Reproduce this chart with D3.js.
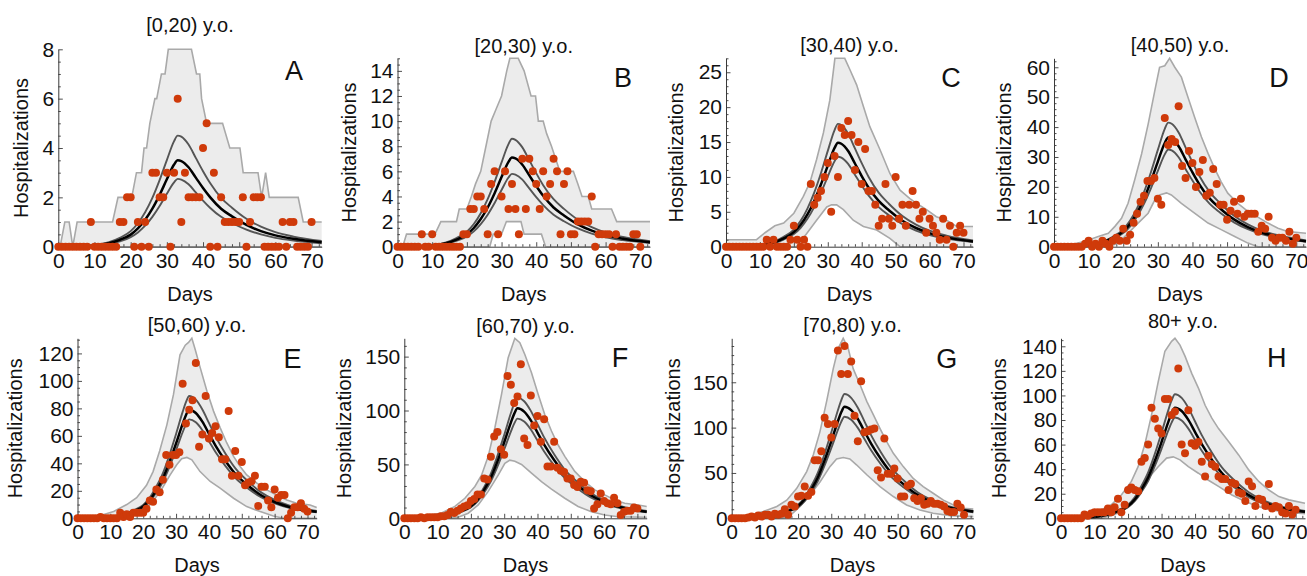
<!DOCTYPE html>
<html><head><meta charset="utf-8">
<script src="https://cdn.jsdelivr.net/npm/d3@7"></script>
<style>
body{margin:0;background:#fff}
svg{display:block;font-family:"Liberation Sans",Arial,sans-serif}
</style>
</head><body>
<svg id="chart" width="1307" height="576"></svg>
<script>
// ---------- DATA ----------
const days = [0,1,2,3,4,5,6,7,8,9,10,11,12,13,14,15,16,17,18,19,20,21,22,23,24,25,26,27,28,29,30,31,32,33,34,35,36,37,38,39,40,41,42,43,44,45,46,47,48,49,50,51,52,53,54,55,56,57,58,59,60,61,62,63,64,65,66,67,68,69,70];
const panelTitles = ["[0,20) y.o.","[20,30) y.o.","[30,40) y.o.","[40,50) y.o.","[50,60) y.o.","[60,70) y.o.","[70,80) y.o.","80+ y.o."];
const panelLetters = ["A","B","C","D","E","F","G","H"];
const xTicks = [0,10,20,30,40,50,60,70];
const yTicksA = [0,2,4,6,8];
const yTicksB = [0,2,4,6,8,10,12,14];
const yTicksC = [0,5,10,15,20,25];
const yTicksD = [0,10,20,30,40,50,60];
const yTicksE = [0,20,40,60,80,100,120];
const yTicksF = [0,50,100,150];
const yTicksG = [0,50,100,150];
const yTicksH = [0,20,40,60,80,100,120,140];

// observed daily hospitalizations (days 0..70)
const hospA = [0,0,0,0,0,0,0,0,0,1, 0,0,0,0,0,0,0,1,1,2, 2,0,1,0,1,0,3,3,2,2, 3,0,3,6,1,3,2,2,2,2, 4,5,0,3,0,2,1,1,1,1, 1,2,0,1,2,2,2,0,0,0, 0,0,1,0,1,1,0,0,0,0, 1];
const hospB = [0,0,0,0,0,0,0,1,0,0, 1,0,0,0,0,0,0,0,0,1, 1,3,3,4,4,3,1,5,6,1, 4,6,3,5,3,1,7,3,7,6, 5,3,6,4,5,7,6,1,5,6, 1,1,2,2,2,2,4,0,1,1, 1,1,0,1,0,0,0,0,1,1, 0];
const hospC = [0,0,0,0,0,0,0,0,0,0, 0,0,1,0,1,0,0,0,0,1, 3,1,0,1,0,9,6,7,8,10, 12,5,13,10,17,16,18,16,11,15, 9,14,8,8,6,3,4,9,4,3, 10,4,6,3,6,8,6,4,5,2, 4,3,2,1,4,1,3,0,2,3, 2];
const hospD = [0,0,0,0,0,0,0,0,0,1, 2,0,1,0,2,1,0,2,3,2, 6,2,4,8,11,15,17,22,22,23, 16,14,43,34,36,35,47,27,23,32, 28,20,25,29,17,18,26,21,14,14, 9,12,15,11,16,10,11,11,11,5, 7,6,10,3,2,3,3,2,5,1, 3];
const hospE = [0,0,0,0,0,0,0,1,0,0, 0,0,0,4,1,3,1,4,4,4, 4,7,13,12,21,19,28,46,39,46, 46,48,98,69,79,86,113,52,61,89, 58,62,67,59,43,43,78,31,49,31, 41,24,26,27,31,9,23,23,13,8, 21,15,17,17,0,4,8,8,11,7, 5];
const hospF = [0,0,0,0,0,1,0,1,1,1, 1,2,2,3,6,5,7,9,11,12, 16,18,22,22,37,36,57,76,80,64, 59,132,124,107,113,143,74,68,114,86, 95,71,92,48,48,71,47,44,43,37, 37,31,29,34,33,26,25,9,13,23, 16,14,13,19,14,3,6,7,7,10, 9];
const hospG = [0,0,0,0,0,1,2,1,3,2, 4,4,2,5,4,5,10,4,15,13, 24,25,35,25,29,64,64,74,111,104, 89,104,185,159,190,159,173,113,85,151, 95,96,98,99,53,45,88,49,49,55, 44,24,24,36,38,22,19,22,15,16, 19,16,16,15,13,8,7,7,16,12, 4];
const hospH = [0,0,0,0,0,0,0,3,2,4, 5,5,5,5,8,5,9,16,5,11, 23,25,23,22,46,49,60,90,81,73, 69,97,97,84,87,122,60,53,88,61, 59,62,46,34,51,44,42,34,32,32, 23,29,28,21,20,14,30,26,10,16, 15,10,28,8,10,9,5,4,10,3, 7];

// model curves (mean and confidence bounds), sampled on curveDays
const curveDays = [0,5,10,14,17,20,22,24,26,28,30,32,33,34,36,38,40,42,45,48,52,56,60,65,72.8];
const meanA = [0,0.01,0.05,0.14,0.28,0.49,0.74,1.09,1.54,2.1,2.73,3.33,3.5,3.47,3.22,2.8,2.38,2.0,1.54,1.23,0.88,0.63,0.46,0.32,0.18];
const ciHiA = [0,0.01,0.06,0.18,0.36,0.63,0.95,1.4,1.98,2.7,3.51,4.28,4.5,4.46,4.14,3.6,3.06,2.57,1.98,1.58,1.13,0.81,0.59,0.41,0.23];
const ciLoA = [0,0.01,0.04,0.11,0.22,0.39,0.58,0.85,1.21,1.65,2.15,2.61,2.75,2.72,2.53,2.2,1.87,1.57,1.21,0.96,0.69,0.5,0.36,0.25,0.14];
const meanB = [0,0.02,0.09,0.28,0.57,0.99,1.49,2.2,3.12,4.26,5.54,6.75,7.1,7.03,6.53,5.68,4.83,4.05,3.12,2.49,1.78,1.28,0.92,0.64,0.36];
const ciHiB = [0,0.03,0.11,0.34,0.69,1.2,1.81,2.67,3.78,5.16,6.71,8.17,8.6,8.51,7.91,6.88,5.85,4.9,3.78,3.01,2.15,1.55,1.12,0.77,0.43];
const ciLoB = [0,0.02,0.08,0.23,0.46,0.81,1.22,1.8,2.55,3.48,4.52,5.51,5.8,5.74,5.34,4.64,3.94,3.31,2.55,2.03,1.45,1.04,0.75,0.52,0.29];
const meanC = [0,0.04,0.19,0.6,1.19,2.09,3.13,4.62,6.56,8.94,11.62,14.16,14.9,14.75,13.71,11.92,10.13,8.49,6.56,5.22,3.73,2.68,1.94,1.34,0.75];
const ciHiC = [0,0.05,0.23,0.7,1.41,2.46,3.7,5.46,7.74,10.56,13.73,16.72,17.6,17.42,16.19,14.08,11.97,10.03,7.74,6.16,4.4,3.17,2.29,1.58,0.88];
const ciLoC = [0,0.04,0.17,0.52,1.03,1.81,2.71,4.0,5.68,7.74,10.06,12.26,12.9,12.77,11.87,10.32,8.77,7.35,5.68,4.52,3.23,2.32,1.68,1.16,0.65];
const meanD = [0,0.11,0.47,1.46,2.92,5.11,7.67,11.32,16.06,21.9,28.47,34.68,36.5,36.14,33.58,29.2,24.82,20.81,16.06,12.78,9.13,6.57,4.75,3.29,1.83];
const ciHiD = [0,0.12,0.54,1.66,3.32,5.81,8.72,12.87,18.26,24.9,32.37,39.43,41.5,41.09,38.18,33.2,28.22,23.66,18.26,14.53,10.38,7.47,5.4,3.74,2.08];
const ciLoD = [0,0.1,0.42,1.3,2.6,4.55,6.83,10.08,14.3,19.5,25.35,30.88,32.5,32.18,29.9,26.0,22.1,18.53,14.3,11.38,8.13,5.85,4.23,2.93,1.63];
const meanE = [0,0.16,0.87,2.61,5.14,8.69,13.43,20.54,29.23,41.08,54.51,68.73,75.05,79,76.63,70.31,61.62,52.93,41.87,32.39,23.7,16.59,11.85,7.9,4.74];
const ciHiE = [0,0.18,0.98,2.94,5.79,9.79,15.13,23.14,32.93,46.28,61.41,77.43,84.55,89,86.33,79.21,69.42,59.63,47.17,36.49,26.7,18.69,13.35,8.9,5.34];
const ciLoE = [0,0.14,0.79,2.38,4.68,7.92,12.24,18.72,26.64,37.44,49.68,62.64,68.4,72,69.84,64.08,56.16,48.24,38.16,29.52,21.6,15.12,10.8,7.2,4.32];
const meanF = [0,0.2,1.12,3.37,6.63,11.22,17.34,26.52,37.74,53.04,70.38,88.74,96.9,102,98.94,90.78,79.56,68.34,54.06,41.82,30.6,21.42,15.3,10.2,6.12];
const ciHiF = [0,0.22,1.23,3.7,7.28,12.32,19.04,29.12,41.44,58.24,77.28,97.44,106.4,112,108.64,99.68,87.36,75.04,59.36,45.92,33.6,23.52,16.8,11.2,6.72];
const ciLoF = [0,0.19,1.02,3.05,6.01,10.18,15.73,24.05,34.23,48.1,63.83,80.48,87.88,92.5,89.73,82.33,72.15,61.98,49.03,37.93,27.75,19.43,13.88,9.25,5.55];
const meanG = [0,0.25,1.35,4.06,8.0,13.53,20.91,31.98,45.51,63.96,84.87,107.01,116.85,123,119.31,109.47,95.94,82.41,65.19,50.43,36.9,25.83,18.45,12.3,7.38];
const ciHiG = [0,0.27,1.51,4.52,8.91,15.07,23.29,35.62,50.69,71.24,94.53,119.19,130.15,137,132.89,121.93,106.86,91.79,72.61,56.17,41.1,28.77,20.55,13.7,8.22];
const ciLoG = [0,0.22,1.23,3.7,7.28,12.32,19.04,29.12,41.44,58.24,77.28,97.44,106.4,112,108.64,99.68,87.36,75.04,59.36,45.92,33.6,23.52,16.8,11.2,6.72];
const meanH = [0,0.18,0.99,2.97,5.85,9.9,15.3,23.4,33.3,46.8,62.1,78.3,85.5,90,87.3,80.1,70.2,60.3,47.7,36.9,27,18.9,13.5,9,5.4];
const ciHiH = [0,0.2,1.11,3.33,6.57,11.11,17.17,26.26,37.37,52.52,69.69,87.87,95.95,101,97.97,89.89,78.78,67.67,53.53,41.41,30.3,21.21,15.15,10.1,6.06];
const ciLoH = [0,0.16,0.9,2.71,5.33,9.02,13.94,21.32,30.34,42.64,56.58,71.34,77.9,82,79.54,72.98,63.96,54.94,43.46,33.62,24.6,17.22,12.3,8.2,4.92];

// outer prediction band (upper / lower envelope)
const upperDaysA = [0,0.5,1.8,3,4,5.2,15,16.5,20.3,21.6,23,23.7,24.4,25.3,26.7,27.2,28.5,29.5,30.4,36.8,38.2,39.1,39.6,41,45.4,47.4,50.2,51.1,55.2,56.2,57.3,58.3,66.3,67.7,72.8];
const upperA = [0,0,1,1,0,1,1,2,2,3,3,4,4,5,6,6,7,7,8,8,7,7,6,5,5,4,4,3,3,2,3,2,2,1,1];
const lowerDaysA = [0,72.8];
const lowerA = [0,0];
const upperDaysB = [0,1.5,2.6,10.8,12.5,17,17.8,20,21.3,22.5,24,25.5,27,28.5,30,31.5,32.4,34.8,36.5,38.5,39.8,40.6,42,43,44.4,45.6,46.8,50.7,52,53.2,55,56,61.7,63.2,72.8];
const upperB = [0,0,1,1,2,2,3,3,4,5,6,8,10,11,12,14,15,15,14,12,12,10,10,9,8,7,6,6,5,4,4,3,3,2,2];
const lowerDaysB = [0,26.6,27.6,30,31.4,35.6,36.5,41.5,42.7,72.8];
const lowerB = [0,0,1,1,2,2,1,1,0,0];
const upperDaysC = [0,9,11.5,14.4,17,20,22.8,24.8,26.7,28.7,30.6,32.1,35,36.5,38.5,40.5,42.4,45.4,48.3,51.3,54.2,56.2,59.1,62,65,68,72.8];
const upperC = [1,1,2,3,3.4,4.8,7.2,9.3,12.5,16.3,21,27,27,25.4,23.2,20.1,17.2,13.9,10.5,8.1,6.9,6.2,5.3,4.3,3.8,2.9,2.9];
const lowerDaysC = [0,20.8,23.8,26.7,29.7,31.1,32.6,34.6,37.5,40.5,44.4,48.3,51.3,72.8];
const lowerC = [0,0,1.9,3.8,5.7,6,6,5.3,3.8,2.9,2.4,1.2,0,0];
const upperDaysD = [0,6,9,12.8,15.7,17.6,19.5,21.4,23.3,25.3,27.2,29.1,30.5,32,33.4,34.9,36.8,38.7,40.6,42.6,44.5,46.4,48.3,50.2,53.1,56,58.9,61.8,64.7,67.5,72.8];
const upperD = [1,1,1.8,3.4,4.5,6.8,9.5,14.5,22.3,31,41,52,60,60.5,63,60,56.7,50,43.4,36.7,31.2,26.2,21.7,17.9,14.5,11.8,9.9,7.9,6.2,5.1,4.5];
const lowerDaysD = [0,13.7,17.6,19.5,21.4,24.3,27.2,29.1,30.5,32.5,33.9,36.8,40.6,44.5,48.3,52.2,56,58.9,72.8];
const lowerD = [0,0,0.7,2.3,4.5,7.9,11.2,15.6,17.3,18,17.3,14.5,11.2,7.9,5.7,3.4,1.2,0,0];
const upperDaysE = [0,7,11,15,18,21,23,25,27.2,29.2,31.2,32.8,33.8,34.8,35.8,37.3,39.4,41.4,43.4,45.4,47.5,49.5,51.5,54.6,57.6,60.6,63.7,66.7,70.8,72.8];
const upperE = [1,2,5,10,15,24,34,49,68,90,119,126,128,131,123,110,92.5,78,66,55,45,37.7,31.6,25.6,20.7,17,13.4,11,9.7,7.8];
const lowerDaysE = [0,10,15,19,22,25.2,28.2,30.2,31.7,33.3,34.8,37.3,40.4,43.4,47.5,51.5,55.6,59.6,62.7,72.8];
const lowerE = [0,0,0.7,3.6,9.7,19.5,31.6,39,43.3,44.3,42.6,34,26.8,21.9,14.6,8.5,4.9,1.7,0,0];
const upperDaysF = [0,6.2,11.2,15.2,18.2,21.2,23.2,25.2,27.2,29.2,31.2,33.2,34.7,36.2,38.2,40.2,42.2,44.2,46.2,48.2,51.2,54.2,57.2,60.2,63.2,66.2,70.3,72.8];
const upperF = [1,2,5,11,18.6,29.5,40,57.5,84,115,149,167,163,152,135,115,96,81,68,57.5,43.5,34,26.4,21.7,17,14,12.4,10.9];
const lowerDaysF = [0,12,16.2,19.2,22.2,25.2,28.2,30.2,31.7,33.2,35.2,38.2,41.2,44.2,48.2,52.2,56.2,60.2,64.2,72.8];
const lowerF = [0,0,1,4.7,12.4,25,40,51,54,53,50,42,34,27,18.6,11,6,3,1.5,1];
const upperDaysG = [0,5.5,9.5,13.6,16.6,19.6,22.6,24.6,26.6,28.6,30.6,32.1,33.6,35.1,36.6,38.7,40.7,42.7,44.7,46.7,48.7,51.7,54.7,57.7,60.7,63.8,66.8,69.8,72.8];
const upperG = [1,3.7,7.4,13,20,33,51.5,70,95.6,129,165,187.5,198.5,187.5,165,147,129,114,99,84.6,71.7,57,44,35,27.6,20,14.7,11,10.3];
const lowerDaysG = [0,13,15.6,18,20.6,23.6,26.6,29.6,31.6,33.6,35.6,37.6,40.7,44.7,48.7,52.7,56.7,60.7,65.8,72.8];
const lowerG = [0,0,1,4.4,13,25.7,40,57,65.4,67,65.4,59,48,35,24,14.7,9.2,5.5,3,1.8];
const upperDaysH = [0,6,11,15,18,21,23,25,27,29,31,33,34,35.5,37,39,41,43,45,47,50,53,56,59,62,65,68,72.8];
const upperH = [1,2,5.4,11,19,30,42,60,84,111,136,144,146.5,141,132,118,106,92,81.5,73,62.5,51.6,39.4,30,23,17.7,15,12.2];
const lowerDaysH = [0,12,15,18,20,23,26,29,31.5,33.5,35.5,38,41,44,47,51,55,59,63,67,72.8];
const lowerH = [0,0,2,5.4,9.5,20,32.6,42,49,50,47.6,42,36.7,31,26,19,13.6,9.5,6.8,4.9,3.8];

// ---------- PANEL ASSEMBLY ----------
const panels = [
  {hosp:hospA, mean:meanA, hi:ciHiA, lo:ciLoA, upD:upperDaysA, up:upperA, loD:lowerDaysA, low:lowerA, yt:yTicksA},
  {hosp:hospB, mean:meanB, hi:ciHiB, lo:ciLoB, upD:upperDaysB, up:upperB, loD:lowerDaysB, low:lowerB, yt:yTicksB},
  {hosp:hospC, mean:meanC, hi:ciHiC, lo:ciLoC, upD:upperDaysC, up:upperC, loD:lowerDaysC, low:lowerC, yt:yTicksC},
  {hosp:hospD, mean:meanD, hi:ciHiD, lo:ciLoD, upD:upperDaysD, up:upperD, loD:lowerDaysD, low:lowerD, yt:yTicksD},
  {hosp:hospE, mean:meanE, hi:ciHiE, lo:ciLoE, upD:upperDaysE, up:upperE, loD:lowerDaysE, low:lowerE, yt:yTicksE},
  {hosp:hospF, mean:meanF, hi:ciHiF, lo:ciLoF, upD:upperDaysF, up:upperF, loD:lowerDaysF, low:lowerF, yt:yTicksF},
  {hosp:hospG, mean:meanG, hi:ciHiG, lo:ciLoG, upD:upperDaysG, up:upperG, loD:lowerDaysG, low:lowerG, yt:yTicksG},
  {hosp:hospH, mean:meanH, hi:ciHiH, lo:ciLoH, upD:upperDaysH, up:upperH, loD:lowerDaysH, low:lowerH, yt:yTicksH}
];

// layout (pixel geometry per panel)
const layout = [
  {l:58.3,  t:49.3, r:321.7,  b:246.7, titleY:31.7,  ylabX:22.5,   letX:294,    letY:80,    minor:0.5},
  {l:397.5, t:58.3, r:650,    b:246.7, titleY:52.5,  ylabX:350.8,  letX:623,    letY:87.3,  minor:0.5},
  {l:726,   t:58.3, r:973,    b:246.7, titleY:52,    ylabX:677.5,  letX:951,    letY:87.3,  minor:1},
  {l:1054,  t:58.3, r:1306,   b:246.7, titleY:51.5,  ylabX:1005.8, letX:1279,   letY:87,    minor:2},
  {l:77.5,  t:338.3,r:316.7,  b:518.3, titleY:332,   ylabX:16.7,   letX:292.5,  letY:368.3, minor:5},
  {l:404.3, t:338.3,r:646.7,  b:518.3, titleY:332.5, ylabX:345.5,  letX:620,    letY:366.7, minor:10},
  {l:731.7, t:338.3,r:973.3,  b:518.3, titleY:332,   ylabX:674.5,  letX:946.7,  letY:368.3, minor:10},
  {l:1061,  t:338.3,r:1305,   b:518.3, titleY:328,   ylabX:1000.5, letX:1276.7, letY:366.7, minor:5}
];

const xMax = 72.8;
const svg = d3.select("#chart");
const defs = svg.append("defs");
const FONT = "Liberation Sans, Arial, sans-serif";

panels.forEach((p, i) => {
  const L = layout[i];
  const yMax = d3.max(p.up);
  const x = d3.scaleLinear().domain([0, xMax]).range([L.l, L.r]);
  const y = d3.scaleLinear().domain([0, yMax]).range([L.b, L.t]);
  const g = svg.append("g");

  defs.append("clipPath").attr("id", "clip" + i)
    .append("rect").attr("x", L.l).attr("y", L.t - 2)
    .attr("width", L.r - L.l + 1).attr("height", L.b - L.t + 3);

  const plot = g.append("g").attr("clip-path", `url(#clip${i})`);

  // band
  const upPts = p.upD.map((d, j) => [x(d), y(p.up[j])]);
  const loPts = p.loD.map((d, j) => [x(d), y(p.low[j])]);
  const poly = upPts.concat(loPts.slice().reverse());
  plot.append("path").attr("d", "M" + poly.join("L") + "Z")
    .attr("fill", "#ececec").attr("stroke", "none");
  const lin = d3.line();
  plot.append("path").attr("d", lin(upPts)).attr("fill", "none")
    .attr("stroke", "#a9a9a9").attr("stroke-width", 1.6);
  plot.append("path").attr("d", lin(loPts)).attr("fill", "none")
    .attr("stroke", "#a9a9a9").attr("stroke-width", 1.6);

  // axes
  const minorY = d3.range(0, yMax + 1e-9, L.minor).filter(v => !p.yt.some(t => Math.abs(t - v) < 1e-9));
  const minorX = d3.range(0, xMax, 2).filter(v => v % 10 !== 0);

  const yMinor = g.append("g").attr("transform", `translate(${L.l},0)`)
    .call(d3.axisLeft(y).tickValues(minorY).tickSizeInner(-2.5).tickSizeOuter(0).tickFormat(""));
  yMinor.select(".domain").remove();
  const xMinor = g.append("g").attr("transform", `translate(0,${y(0)})`)
    .call(d3.axisBottom(x).tickValues(minorX).tickSizeInner(-2.5).tickSizeOuter(0).tickFormat(""));
  xMinor.select(".domain").remove();

  const yAx = g.append("g").attr("transform", `translate(${L.l},0)`)
    .call(d3.axisLeft(y).tickValues(p.yt).tickSizeInner(-4.5).tickSizeOuter(0).tickPadding(4));
  const xAx = g.append("g").attr("transform", `translate(0,${y(0)})`)
    .call(d3.axisBottom(x).tickValues(xTicks).tickSizeInner(-4.5).tickSizeOuter(0).tickPadding(6));

  [yAx, xAx, yMinor, xMinor].forEach(a => {
    a.selectAll("path.domain").attr("stroke", "#3a3a3a").attr("stroke-width", 1);
    a.selectAll(".tick line").attr("stroke", "#3a3a3a").attr("stroke-width", 0.9);
    a.selectAll("text").attr("font-size", 21).attr("font-family", FONT).attr("fill", "#111");
  });

  // model curves
  const cl = d3.line().x((d, j) => x(curveDays[j])).y(d => y(d)).curve(d3.curveMonotoneX);
  plot.append("path").attr("d", cl(p.hi)).attr("fill", "none").attr("stroke", "#555").attr("stroke-width", 1.9);
  plot.append("path").attr("d", cl(p.lo)).attr("fill", "none").attr("stroke", "#555").attr("stroke-width", 1.9);
  plot.append("path").attr("d", cl(p.mean)).attr("fill", "none").attr("stroke", "#000").attr("stroke-width", 2.5);

  // observed points
  g.append("g").selectAll("circle").data(p.hosp).join("circle")
    .attr("cx", (d, j) => x(days[j])).attr("cy", d => y(d)).attr("r", 4)
    .attr("fill", "#cf3a0a");

  // texts
  g.append("text").attr("x", (L.l + L.r) / 2).attr("y", L.titleY)
    .attr("text-anchor", "middle").attr("font-size", 20).attr("font-family", FONT).attr("fill", "#111")
    .text(panelTitles[i]);
  g.append("text").attr("x", (L.l + L.r) / 2).attr("y", L.b + 54)
    .attr("text-anchor", "middle").attr("font-size", 20).attr("font-family", FONT).attr("fill", "#111")
    .text("Days");
  g.append("text").attr("transform", `translate(${L.ylabX + 5},${(L.t + L.b) / 2}) rotate(-90)`)
    .attr("text-anchor", "middle").attr("font-size", 20).attr("font-family", FONT).attr("fill", "#111")
    .text("Hospitalizations");
  g.append("text").attr("x", L.letX).attr("y", L.letY)
    .attr("text-anchor", "middle").attr("font-size", 27).attr("font-family", FONT).attr("fill", "#111")
    .text(panelLetters[i]);
});
</script>
</body></html>
